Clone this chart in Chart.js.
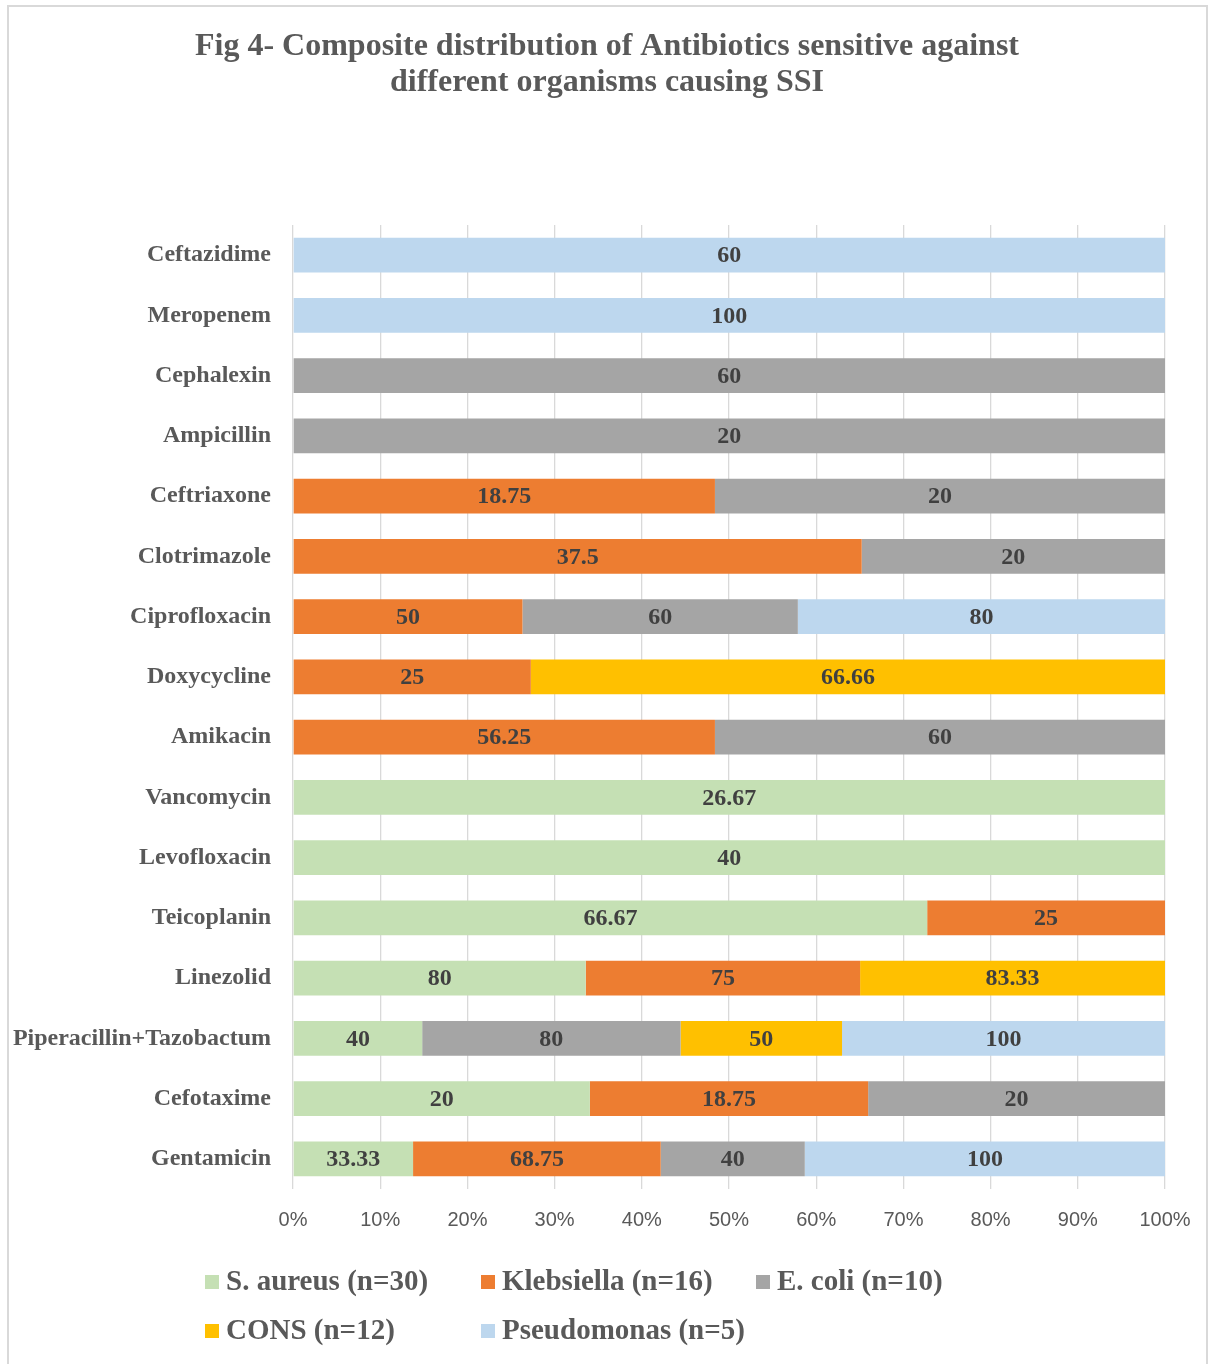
<!DOCTYPE html>
<html>
<head>
<meta charset="utf-8">
<script src="https://cdn.jsdelivr.net/npm/chart.js@4"></script>
<style>
  body { margin: 0; background: #fff; }
  #wrap { width: 1210px; height: 1364px; position: relative; }
</style>
</head>
<body>
<div id="wrap"><canvas id="chart1" width="1210" height="1364"></canvas></div>
<script>
// categories, top to bottom
var drugs = ['Ceftazidime', 'Meropenem', 'Cephalexin', 'Ampicillin', 'Ceftriaxone', 'Clotrimazole',
  'Ciprofloxacin', 'Doxycycline', 'Amikacin', 'Vancomycin', 'Levofloxacin', 'Teicoplanin',
  'Linezolid', 'Piperacillin+Tazobactum', 'Cefotaxime', 'Gentamicin'];

// % sensitive per organism (null = not tested)
var sAureus     = [null, null, null, null, null, null, null, null, null, 26.67, 40, 66.67, 80, 40, 20, 33.33];
var klebsiella  = [null, null, null, null, 18.75, 37.5, 50, 25, 56.25, null, null, 25, 75, null, 18.75, 68.75];
var eColi       = [null, null, 60, 20, 20, 20, 60, null, 60, null, null, null, null, 80, 20, 40];
var cons        = [null, null, null, null, null, null, null, 66.66, null, null, null, null, 83.33, 50, null, null];
var pseudomonas = [60, 100, null, null, null, null, 80, null, null, null, null, null, null, 100, null, 100];

var seriesNames = ['S. aureus (n=30)', 'Klebsiella (n=16)', 'E. coli (n=10)', 'CONS (n=12)', 'Pseudomonas (n=5)'];
var seriesColors = ['#C5E0B4', '#ED7D31', '#A5A5A5', '#FFC000', '#BDD7EE'];
var xTicks = [0, 10, 20, 30, 40, 50, 60, 70, 80, 90, 100];
var titleLines = ['Fig 4- Composite distribution of Antibiotics sensitive against', 'different organisms causing SSI'];

var allSeries = [sAureus, klebsiella, eColi, cons, pseudomonas];

// 100% stacked: share of each row
var totals = drugs.map(function(d, i) {
  var t = 0;
  allSeries.forEach(function(s) { t += s[i] || 0; });
  return t;
});

var datasets = allSeries.map(function(s, k) {
  return {
    label: seriesNames[k],
    raw: s,
    data: s.map(function(v, i) { return v ? v / totals[i] * 100 : 0; }),
    backgroundColor: seriesColors[k],
    borderWidth: 0,
    barPercentage: 0.58,
    categoryPercentage: 1
  };
});

var serif = "'Liberation Serif', 'Times New Roman', serif";

// frame + title (title centred on the whole figure, not the plot)
var framePlugin = {
  id: 'frame',
  beforeDraw: function(chart) {
    var c = chart.ctx;
    c.save();
    c.fillStyle = '#fff';
    c.fillRect(0, 0, chart.width, chart.height);
    c.strokeStyle = '#D9D9D9';
    c.lineWidth = 2;
    c.strokeRect(8, 6, 1199, 1400);
    c.font = 'bold 32px ' + serif;
    c.fillStyle = '#595959';
    c.textAlign = 'center';
    c.textBaseline = 'middle';
    c.fillText(titleLines[0], 607, 47);
    c.fillText(titleLines[1], 607, 83);
    c.restore();
  }
};

// raw values written in the middle of each segment
var valuePlugin = {
  id: 'values',
  afterDatasetsDraw: function(chart) {
    var c = chart.ctx;
    c.save();
    c.font = 'bold 24px ' + serif;
    c.fillStyle = '#404040';
    c.textAlign = 'center';
    c.textBaseline = 'middle';
    chart.data.datasets.forEach(function(ds, k) {
      var meta = chart.getDatasetMeta(k);
      meta.data.forEach(function(el, i) {
        var v = ds.raw[i];
        if (!v) return;
        c.fillText(String(v), (el.x + el.base) / 2, el.y + 1);
      });
    });
    c.restore();
  }
};

// Excel style legend: 3 fixed columns, 2 rows
var legendPlugin = {
  id: 'fixedLegend',
  afterDraw: function(chart) {
    var c = chart.ctx;
    var colX = [205, 481, 756];
    var rowY = [1282, 1331];
    c.save();
    c.font = 'bold 29px ' + serif;
    c.textBaseline = 'middle';
    c.textAlign = 'left';
    chart.data.datasets.forEach(function(ds, k) {
      var x = colX[k % 3], y = rowY[Math.floor(k / 3)];
      c.fillStyle = ds.backgroundColor;
      c.fillRect(x, y - 7, 14, 14);
      c.fillStyle = '#595959';
      c.fillText(ds.label, x + 21, y + 1);
    });
    c.restore();
  }
};

var ctx = document.getElementById('chart1').getContext('2d');

var myChart = new Chart(ctx, {
  type: 'bar',
  data: {
    labels: drugs,
    datasets: datasets
  },
  plugins: [framePlugin, valuePlugin, legendPlugin],
  options: {
    indexAxis: 'y',
    responsive: false,
    animation: false,
    layout: { padding: { left: 0, right: 45, top: 225, bottom: 0 } },
    plugins: {
      legend: { display: false },
      tooltip: { enabled: false },
      title: { display: false }
    },
    scales: {
      x: {
        stacked: true,
        min: 0,
        max: 100,
        afterBuildTicks: function(scale) {
          scale.ticks = xTicks.map(function(v) { return { value: v }; });
        },
        afterFit: function(scale) { scale.height = 175; },
        grid: { color: '#D9D9D9', lineWidth: 1.3, drawTicks: false },
        border: { display: false },
        ticks: {
          padding: 19,
          color: '#595959',
          font: { family: "'Liberation Sans', Arial, sans-serif", size: 20 },
          callback: function(v) { return v + '%'; }
        }
      },
      y: {
        stacked: true,
        afterFit: function(scale) { scale.width = 293; },
        grid: { display: false, drawTicks: false },
        border: { display: false },
        ticks: {
          padding: 22,
          color: '#595959',
          font: { family: serif, size: 24, weight: 'bold' }
        }
      }
    }
  }
});
</script>
</body>
</html>
